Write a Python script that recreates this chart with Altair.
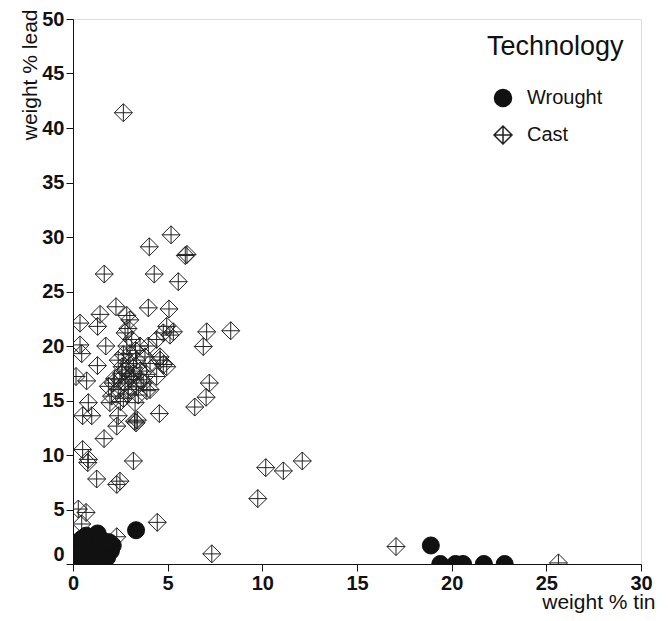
import altair as alt
import pandas as pd

# Cast specimens (weight % tin, weight % lead)
cast_tin = [2.66, 5.18, 4.03, 5.93, 6.02, 1.65, 4.29, 5.56, 2.27, 1.43, 0.37, 1.30, 3.98, 5.07,
            2.84, 3.00, 7.06, 8.33, 4.95, 5.30, 0.37, 0.46, 1.73, 2.75, 1.29, 0.16, 0.72, 6.88,
            7.20, 7.03, 6.43, 4.56, 3.33, 3.40, 3.25, 0.81, 0.51, 0.99, 1.95, 2.39, 2.31, 1.64,
            0.51, 0.81, 0.78, 3.19, 1.25, 2.31, 2.48, 10.18, 11.11, 12.11, 9.76, 0.28, 0.69, 0.46,
            4.45, 2.31, 7.33, 17.06, 25.64,
            5.12, 4.42, 3.98, 3.10, 2.39, 4.77, 4.95, 4.60, 4.07, 4.42, 3.71, 4.07, 1.87, 2.04,
            2.66, 3.28, 2.57, 3.01, 2.84, 2.48, 3.10, 3.36, 2.13, 3.54, 2.92, 3.36, 3.80, 3.54,
            2.92, 2.39, 3.89, 2.75, 3.19, 2.66, 3.01, 3.45, 4.77, 4.60, 2.80, 3.20, 2.60, 2.90,
            3.60, 2.20, 3.30, 2.90, 3.90, 2.50]
cast_lead = [41.4, 30.2, 29.1, 28.3, 28.4, 26.6, 26.6, 25.9, 23.6, 22.9, 22.1, 21.8, 23.5, 23.4,
             22.8, 22.4, 21.3, 21.4, 21.8, 21.3, 20.1, 19.3, 20.0, 21.2, 18.2, 17.2, 16.8, 19.95,
             16.6, 15.3, 14.4, 13.8, 12.95, 13.2, 13.1, 14.8, 13.6, 13.6, 14.8, 13.6, 12.65, 11.5,
             10.5, 9.6, 9.3, 9.45, 7.8, 7.3, 7.6, 8.84, 8.54, 9.45, 6.0, 5.04, 4.73, 3.67,
             3.82, 2.5, 0.93, 1.6, 0.1,
             21.0, 20.6, 20.0, 20.6, 18.7, 21.2, 18.1, 19.0, 18.4, 17.2, 16.6, 16.0, 16.3, 15.4,
             15.2, 14.8, 17.5, 19.3, 20.0, 16.9, 16.9, 16.3, 16.6, 17.7, 18.4, 18.7, 19.0, 20.0,
             16.0, 16.0, 17.4, 16.6, 18.0, 19.2, 17.2, 15.5, 18.3, 18.7, 17.8, 17.5, 18.1, 15.6,
             16.9, 17.0, 19.6, 21.6, 15.9, 14.9]

# Wrought specimens
wrought_tin = [0.10, 0.20, 0.30, 0.40, 0.50, 0.60, 0.70, 0.80, 0.90, 1.00, 1.10, 1.20, 1.30, 1.40,
               1.50, 1.60, 1.70, 1.80, 2.00, 2.10, 0.15, 0.35, 0.55, 0.75, 1.25, 1.45, 0.05, 0.95,
               1.90, 3.33, 18.90, 19.40, 20.20, 20.60, 21.70, 22.80]
wrought_lead = [0.2, 0.8, 1.5, 2.2, 0.5, 1.2, 2.6, 0.3, 1.8, 1.0, 2.2, 0.4, 2.8, 1.5,
                0.9, 2.1, 1.4, 0.6, 1.2, 1.7, 1.9, 0.1, 2.4, 1.0, 0.9, 2.3, 1.0, 0.2,
                2.0, 3.1, 1.7, 0.0, 0.0, 0.0, 0.0, 0.0]

categories = ["Wrought", "Cast"]
x_ticks = [0, 5, 10, 15, 20, 25, 30]
y_ticks = [0, 5, 10, 15, 20, 25, 30, 35, 40, 45, 50]

df = pd.concat([
    pd.DataFrame({"tin": cast_tin, "lead": cast_lead, "Technology": "Cast"}),
    pd.DataFrame({"tin": wrought_tin, "lead": wrought_lead, "Technology": "Wrought"}),
], ignore_index=True)

diamond_cross = "M0,-1L1,0L0,1L-1,0Z M0,-1L0,1 M-1,0L1,0"
FONT = "Liberation Sans"

legend = alt.Legend(
    title="Technology", orient="none", legendX=414, legendY=15,
    titleFontSize=27, titleFont=FONT, titleFontWeight="normal", titleColor="#111",
    titlePadding=27, labelFontSize=20, labelFont=FONT, labelColor="#111",
    labelOffset=14, rowPadding=13, symbolOffset=6, padding=0,
)

chart = alt.Chart(df).mark_point(clip=True, opacity=1, strokeWidth=1).encode(
    x=alt.X("tin:Q", scale=alt.Scale(domain=[0, 30], nice=False),
            axis=alt.Axis(values=x_ticks, title="weight % tin", grid=False,
                          titleX=582, titleY=44, titleAlign="right", titleBaseline="alphabetic",
                          titleFontSize=21, titleFontWeight="normal", titleFont=FONT,
                          labelFontSize=20, labelFontWeight="bold", labelFont=FONT,
                          labelPadding=2, tickSize=7, domainColor="#111", tickColor="#111",
                          labelColor="#111", titleColor="#111", labelFlush=False)),
    y=alt.Y("lead:Q", scale=alt.Scale(domain=[0, 50], nice=False),
            axis=alt.Axis(values=y_ticks, title="weight % lead", grid=False,
                          titleX=-37, titleY=-10, titleAngle=270, titleAlign="right",
                          titleBaseline="alphabetic",
                          titleFontSize=21, titleFontWeight="normal", titleFont=FONT,
                          labelFontSize=20, labelFontWeight="bold", labelFont=FONT,
                          labelBaseline=alt.condition("datum.value == 0", alt.value("bottom"), alt.value("middle")),
                          labelPadding=2, tickSize=7, domainColor="#111", tickColor="#111",
                          labelColor="#111", titleColor="#111", labelFlush=False)),
    shape=alt.Shape("Technology:N", scale=alt.Scale(domain=categories, range=["circle", diamond_cross]),
                    legend=legend),
    fill=alt.Fill("Technology:N", scale=alt.Scale(domain=categories, range=["#111111", "transparent"]),
                  legend=legend),
    stroke=alt.Stroke("Technology:N", scale=alt.Scale(domain=categories, range=["#111111", "#222222"]),
                      legend=legend),
    size=alt.Size("Technology:N", scale=alt.Scale(domain=categories, range=[290, 324]),
                  legend=legend),
    order=alt.Order("order:Q"),
).transform_calculate(
    order="datum.Technology == 'Cast' ? 0 : 1"
).properties(
    width=568, height=545,
    autosize=alt.AutoSizeParams(type="none"),
    padding={"left": 65, "top": 11, "right": 18, "bottom": 49},
).configure_view(
    stroke="#555", strokeWidth=1
).configure(background="white")

chart.save("out.html", embed_options={"renderer": "svg", "actions": False})
